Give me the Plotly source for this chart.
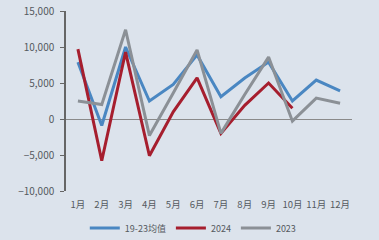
import plotly.graph_objects as go

months = ["1月", "2月", "3月", "4月", "5月", "6月", "7月", "8月", "9月", "10月", "11月", "12月"]
avg_19_23 = [7900, -900, 10000, 2500, 4800, 8900, 3100, 5700, 7900, 2500, 5400, 3900]
y2024 = [9700, -5800, 9300, -5100, 1000, 5700, -2000, 1900, 5000, 1500]
y2023 = [2500, 2000, 12400, -2300, 3600, 9600, -2000, 3400, 8600, -300, 2900, 2200]
y_ticks = [-10000, -5000, 0, 5000, 10000, 15000]

fig = go.Figure()
fig.add_trace(go.Scatter(x=months, y=avg_19_23, mode="lines", name="19-23均值",
                         line=dict(color="#4a87c2", width=3)))
fig.add_trace(go.Scatter(x=months[:len(y2024)], y=y2024, mode="lines", name="2024",
                         line=dict(color="#a61e2e", width=3)))
fig.add_trace(go.Scatter(x=months, y=y2023, mode="lines", name="2023",
                         line=dict(color="#8b9096", width=3)))

fig.update_layout(
    width=379, height=240,
    margin=dict(l=66, r=27, t=11, b=49, autoexpand=False),
    paper_bgcolor="#dce3ec", plot_bgcolor="#dce3ec",
    font=dict(family="Noto Sans CJK SC, DejaVu Sans", color="#555a60", size=10),
    showlegend=True,
    legend=dict(orientation="h", x=0.51, xref="container", xanchor="center",
                y=0.05, yref="container", yanchor="middle",
                font=dict(size=9, color="#555a60"), itemwidth=30,
                bgcolor="rgba(0,0,0,0)", tracegroupgap=0),
)
fig.update_xaxes(type="category", range=[-0.5, 11.5], showgrid=False, showline=False,
                 ticks="", tickfont=dict(size=9.5), tickangle=0, automargin=False,
                 ticklabelstandoff=6, zeroline=False)
fig.update_yaxes(range=[-10000, 15000], tickvals=y_ticks, tickformat=",",
                 showgrid=False, showline=True, linecolor="#666", linewidth=1.5,
                 ticks="outside", ticklen=4, tickcolor="#666", automargin=False,
                 ticklabelstandoff=4,
                 zeroline=True, zerolinecolor="#8a8a8a", zerolinewidth=1,
                 tickfont=dict(size=10))

fig.write_html("out.html")
